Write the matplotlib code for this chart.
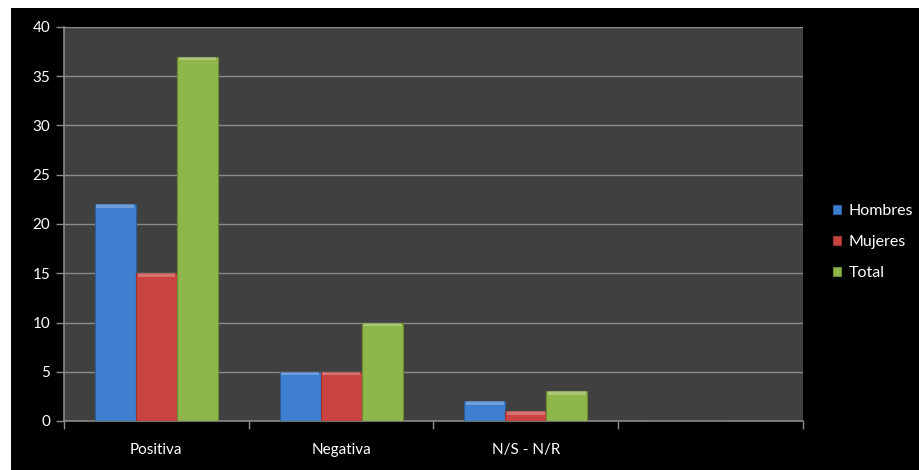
import matplotlib.pyplot as plt
import numpy as np
from matplotlib.patches import Rectangle

categories = ["Positiva", "Negativa", "N/S - N/R", ""]
hombres = [22, 5, 2, 0]
mujeres = [15, 5, 1, 0]
total = [37, 10, 3, 0]
series_names = ["Hombres", "Mujeres", "Total"]
colors = ["#3f7fcf", "#c94440", "#8fb64a"]
edge_colors = ["#2c5d9c", "#963230", "#6b8a35"]

plt.rcParams['font.family'] = ['Lato', 'DejaVu Sans']

fig = plt.figure(figsize=(9.2, 4.7), dpi=100, facecolor="white")
# black chart area with thin white margin at top/left
fig.patches.append(Rectangle((11 / 920, 0), 1, 1 - 8 / 470, transform=fig.transFigure,
                             facecolor="black", edgecolor="none", zorder=-10))

ax = fig.add_axes([64 / 920, 1 - 421 / 470, (803 - 64) / 920, (421 - 27) / 470])
ax.set_zorder(1)
ax.set_facecolor("#404040")

x = np.arange(len(categories))
w = 0.222
for i, vals in enumerate([hombres, mujeres, total]):
    pos = x + (i - 1) * w
    ax.bar(pos, vals, width=w, color=colors[i], edgecolor=edge_colors[i],
           linewidth=0.8, label=series_names[i], zorder=3)
    # light bevel on top of each bar
    for p, v in zip(pos, vals):
        if v > 0:
            ax.bar(p, 0.35, bottom=v - 0.35, width=w * 0.92, color="white",
                   alpha=0.25, linewidth=0, zorder=4)

ax.set_xlim(-0.5, len(categories) - 0.5)
ax.set_ylim(0, 40)
ax.set_yticks(range(0, 41, 5))
ax.yaxis.grid(True, color="#8a8a8a", linewidth=1)
ax.set_axisbelow(True)

ax.set_xticks(x)
ax.set_xticklabels(categories)
ax.set_xticks(np.arange(-0.5, len(categories), 1), minor=True)
ax.tick_params(axis="x", which="major", length=0, pad=16, colors="white", labelsize=11)
ax.tick_params(axis="x", which="minor", length=6, color="#8a8a8a", width=1)
ax.tick_params(axis="y", length=6, color="#8a8a8a", width=1, colors="white", labelsize=11, pad=4)
for lbl in ax.get_yticklabels():
    lbl.set_color("white")

for s in ["top", "right"]:
    ax.spines[s].set_visible(False)
for s in ["left", "bottom"]:
    ax.spines[s].set_color("#8a8a8a")
    ax.spines[s].set_linewidth(1.2)

leg = fig.legend(loc="center left", bbox_to_anchor=(819 / 920, 1 - 242 / 470),
                 frameon=False, labelcolor="white", fontsize=11.5,
                 handlelength=0.5, handleheight=0.5, handletextpad=0.45,
                 labelspacing=1.05)

fig.savefig("out.png", dpi=100, facecolor=fig.get_facecolor())
